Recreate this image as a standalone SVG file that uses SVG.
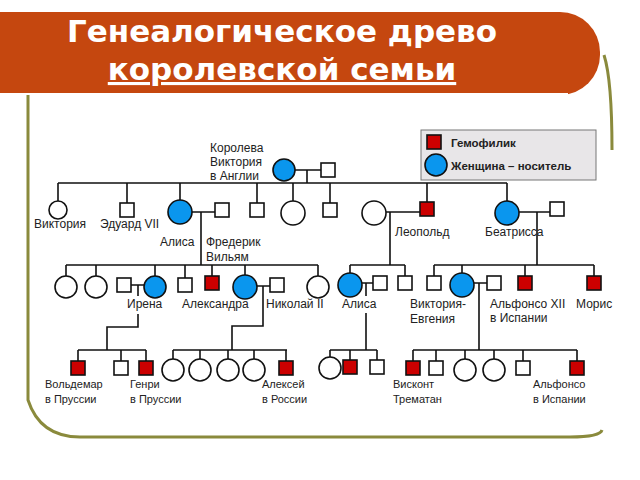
<svg xmlns="http://www.w3.org/2000/svg" width="640" height="480" viewBox="0 0 640 480">
<style>
.ln{fill:none;stroke:#111;stroke-width:1.6}
.m{fill:#fff;stroke:#111;stroke-width:1.6}
.h{fill:#cc0000;stroke:#111;stroke-width:1.6}
.c{fill:#0a96ee;stroke:#111;stroke-width:1.6}
.f{fill:#fff;stroke:#111;stroke-width:1.6}
text{font-family:"Liberation Sans",Arial,sans-serif;font-size:12px;fill:#222}
.s{font-size:11px}
.lg{font-weight:bold;font-size:11.5px}
</style>
<defs>
<rect id="sq" x="-7" y="-7" width="14" height="14"/>
</defs>
<rect width="640" height="480" fill="#fff"/>
<g id="frame" fill="none" stroke="#8a8a3c" stroke-width="3">
<path d="M28 95 V400 Q40 437 80 437 H570 Q600 437 602 430"/>
<path d="M604 55 Q612 80 612 150"/>
</g>
<g id="title">
<path d="M0 12 H560 A40 40 0 0 1 600 52 V55 A40 40 0 0 1 560 95 H0 Z" fill="#c5470f"/>
<line x1="0" y1="94" x2="568" y2="94" stroke="#fff" stroke-width="2"/>
<text x="282" y="42" text-anchor="middle" style="font-family:'DejaVu Sans',sans-serif;font-size:31px;font-weight:bold;fill:#fff">Генеалогическое древо</text>
<text x="282" y="80" text-anchor="middle" text-decoration="underline" style="font-family:'DejaVu Sans',sans-serif;font-size:31px;font-weight:bold;fill:#fff">королевской семьи</text>
</g>
<g id="legend">
<rect x="421" y="130" width="175" height="50" fill="#e8e6e8" stroke="#777"/>
<use href="#sq" x="434" y="142" class="h"/>
<text x="451" y="147" class="lg">Гемофилик</text>
<circle cx="436" cy="165" r="11" class="c"/>
<text x="451" y="170" class="lg">Женщина – носитель</text>
</g>
<g id="connectors" class="ln">
<path d="M295 170 H321 M307 170 V183 M58 183 H507"/>
<path d="M58 183 V201 M127 183 V203 M180 183 V200 M257 183 V203 M293 183 V201 M330 183 V203 M427 183 V202 M507 183 V201"/>
<path d="M192 212 H215 M201 212 V265 M66 265 H318"/>
<path d="M66 265 V276 M96 265 V276 M155 265 V276 M185 265 V278 M212 265 V276 M245 265 V275 M318 265 V276"/>
<path d="M131 285 H144 M138 285 V296 M138 314 V327 H107 V350 M78 350 H146 M78 350 V361 M121 350 V361 M146 350 V361"/>
<path d="M257 286 H270 M263 286 V326 H232 V350 M173 350 H287 M173 350 V359 M200 350 V359 M228 350 V359 M254 350 V359 M286 350 V361"/>
<path d="M386 212 H420 M390 212 V265 M350 265 H405 M350 265 V273 M405 265 V276"/>
<path d="M362 283 H373 M366 283 V296 M366 313 V350 M330 350 H377 M330 350 V357 M350 350 V360 M377 350 V360"/>
<path d="M519 212 H550 M537 212 V265 M434 265 H594 M434 265 V276 M462 265 V273 M525 265 V276 M594 265 V276"/>
<path d="M474 283 H487 M479 283 V350 M413 350 H577 M413 350 V361 M436 350 V361 M465 350 V359 M494 350 V359 M523 350 V361 M577 350 V361"/>
</g>
<g id="gen1">
<circle cx="284" cy="170" r="11" class="c"/>
<use href="#sq" x="328" y="170" class="m"/>
<text x="210" y="152">Королева</text><text x="210" y="166">Виктория</text><text x="210" y="180">в Англии</text>
</g>
<g id="gen2">
<circle cx="58" cy="210" r="9" class="f"/><text x="34" y="228">Виктория</text>
<use href="#sq" x="127" y="210" class="m"/><text x="100" y="228">Эдуард VII</text>
<circle cx="180" cy="212" r="12" class="c"/><text x="160" y="246">Алиса</text>
<use href="#sq" x="222" y="210" class="m"/><text x="206" y="246">Фредерик</text><text x="206" y="261">Вильям</text>
<use href="#sq" x="257" y="210" class="m"/>
<circle cx="293" cy="213" r="12" class="f"/>
<use href="#sq" x="330" y="210" class="m"/>
<circle cx="374" cy="213" r="12" class="f"/>
<use href="#sq" x="427" y="209" class="h"/><text x="395" y="236">Леопольд</text>
<circle cx="507" cy="213" r="12" class="c"/><text x="485" y="236">Беатрисса</text>
<use href="#sq" x="557" y="209" class="m"/>
</g>
<g id="gen3">
<circle cx="66" cy="287" r="11" class="f"/>
<circle cx="96" cy="287" r="11" class="f"/>
<use href="#sq" x="124" y="285" class="m"/>
<circle cx="155" cy="287" r="11" class="c"/><text x="127" y="308">Ирена</text>
<use href="#sq" x="185" y="285" class="m"/>
<use href="#sq" x="212" y="283" class="h"/><text x="182" y="308">Александра</text>
<circle cx="245" cy="287" r="12" class="c"/>
<use href="#sq" x="277" y="285" class="m"/><text x="266" y="308">Николай II</text>
<circle cx="318" cy="287" r="11" class="f"/>
<circle cx="350" cy="285" r="12" class="c"/><text x="342" y="308">Алиса</text>
<use href="#sq" x="380" y="283" class="m"/>
<use href="#sq" x="405" y="283" class="m"/>
<use href="#sq" x="434" y="283" class="m"/>
<circle cx="462" cy="285" r="12" class="c"/><text x="410" y="308">Виктория-</text><text x="410" y="323">Евгения</text>
<use href="#sq" x="494" y="283" class="m"/><text x="490" y="308">Альфонсо XII</text><text x="490" y="322">в Испании</text>
<use href="#sq" x="525" y="283" class="h"/>
<use href="#sq" x="594" y="283" class="h"/><text x="576" y="308">Морис</text>
</g>
<g id="gen4">
<use href="#sq" x="78" y="368" class="h"/><text x="45" y="388" class="s">Вольдемар</text><text x="45" y="403" class="s">в Пруссии</text>
<use href="#sq" x="121" y="368" class="m"/>
<use href="#sq" x="146" y="368" class="h"/><text x="130" y="388" class="s">Генри</text><text x="130" y="403" class="s">в Пруссии</text>
<circle cx="173" cy="370" r="11" class="f"/>
<circle cx="200" cy="370" r="11" class="f"/>
<circle cx="228" cy="370" r="11" class="f"/>
<circle cx="254" cy="370" r="11" class="f"/>
<use href="#sq" x="286" y="368" class="h"/><text x="262" y="388" class="s">Алексей</text><text x="262" y="403" class="s">в России</text>
<circle cx="330" cy="368" r="11" class="f"/>
<use href="#sq" x="350" y="367" class="h"/>
<use href="#sq" x="377" y="367" class="m"/>
<use href="#sq" x="413" y="368" class="h"/><text x="393" y="388" class="s">Висконт</text><text x="393" y="403" class="s">Трематан</text>
<use href="#sq" x="436" y="368" class="m"/>
<circle cx="465" cy="370" r="11" class="f"/>
<circle cx="494" cy="370" r="11" class="f"/>
<use href="#sq" x="523" y="368" class="m"/>
<use href="#sq" x="577" y="368" class="h"/><text x="533" y="388" class="s">Альфонсо</text><text x="533" y="403" class="s">в Испании</text>
</g>
</svg>
